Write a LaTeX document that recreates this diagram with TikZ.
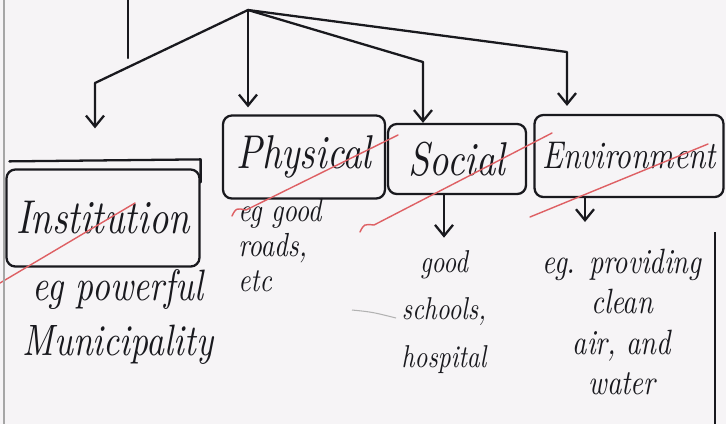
\documentclass[tikz,border=0pt]{standalone}
\usepackage{fontspec}
\usepackage{tikz}
\usetikzlibrary{arrows.meta}
% narrow italic for the written words
\newfontfamily\handfont{lmroman10-italic.otf}[FakeStretch=0.8]
\definecolor{paper}{RGB}{246,244,246}
\definecolor{ink}{RGB}{25,25,30}
\definecolor{redpen}{RGB}{222,96,100}

\begin{document}
\begin{tikzpicture}[
  x=0.02cm, y=-0.02cm,
  pen/.style={draw=ink, line width=1.3pt, line cap=round, line join=round},
  box/.style={pen, rounded corners=5pt, inner sep=0pt, text=ink,
              font=\fontsize{27}{30}\handfont},
  note/.style={text=ink, align=center, inner sep=0pt},
  flow/.style={pen, -{Straight Barb[length=2.2mm,width=3.6mm]}},
  strike/.style={draw=redpen, line width=0.8pt, line cap=round}
]
  \fill[paper] (0,0) rectangle (726,424);
  \useasboundingbox (0,0) rectangle (726,424);

  % the four kinds of development
  \node[box, minimum width=3.86cm, minimum height=1.94cm] (inst) at (103,218) {Institution};
  \node[box, minimum width=3.24cm, minimum height=1.66cm] (phys) at (304,157) {Physical};
  \node[box, minimum width=2.76cm, minimum height=1.4cm] (soc) at (457,159) {Social};
  \node[box, minimum width=3.78cm, minimum height=1.64cm,
        font=\fontsize{22}{24}\handfont] (env) at (629,156) {Environment};
  \draw[pen] ([shift={(4,-7)}]inst.north west) -- ([shift={(0,-9)}]inst.north east)
    -- ([shift={(0,14)}]inst.north east);

  % examples under each box
  \node[note, font=\fontsize{25}{31}\handfont] (instnote) at (118,317) {eg powerful\\Municipality};
  \node[note, align=left, anchor=north west, font=\fontsize{19}{20}\handfont]
    (physnote) at (238,198) {eg good\\roads,\\etc};
  \node[note, font=\fontsize{18}{27}\handfont] (socnote) at (444,312) {good\\schools,\\hospital};
  \node[note, font=\fontsize{20}{23}\handfont] (envnote) at (622,322) {eg. providing\\clean\\air, and\\water};

  % branching from the stem
  \coordinate (stemtop) at (128,0);
  \coordinate (stemfoot) at (128,58);
  \coordinate (apex) at (248,10);
  \coordinate (instbend) at (95,83);
  \coordinate (socbend) at (423,62);
  \coordinate (envbend) at (567,52);
  \coordinate (envtip) at (585,222);
  \draw[pen] (stemtop) -- (stemfoot);
  \draw[flow, shorten >=0.8cm] (apex) -- (instbend) -- (instbend |- inst.north);
  \draw[flow, shorten >=0.14cm] (apex) -- (apex |- phys.north);
  \draw[flow] (apex) -- (socbend) -- (socbend |- soc.north);
  \draw[flow, shorten >=0.16cm] (apex) -- (envbend) -- (envbend |- env.north);
  \draw[flow, shorten >=0.25cm] (soc.south -| socnote.north) -- (socnote.north);
  \draw[flow] (env.south -| envtip) -- (envtip);

  % red pen marks
  \draw[strike] (0,283) -- (135,203);
  \draw[strike] (232,216) .. controls (236,208) .. (246,210) -- (398,135);
  \draw[strike] (360,232) .. controls (364,224) .. (374,225) -- (552,133);
  \draw[strike] (530,217) -- (708,144);

  % page edges and stray stroke
  \draw[gray!70, line width=1pt] (4,0) -- (4,424);
  \draw[ink, line width=1.2pt] (715,232) -- (715,424);
  \draw[gray!60, line width=0.6pt] (352,310) .. controls (372,312) .. (396,318);
\end{tikzpicture}
\end{document}
